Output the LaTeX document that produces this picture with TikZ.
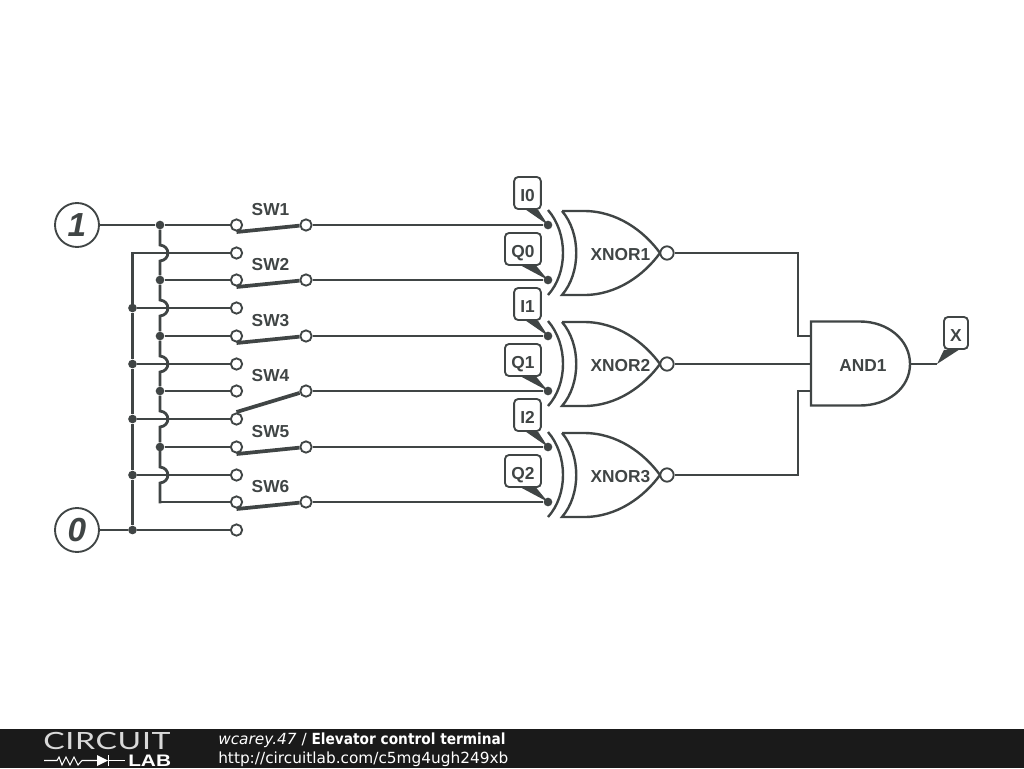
\documentclass[tikz,border=0pt]{standalone}
\usepackage{fontspec}
\setmainfont{Liberation Sans}
\newfontfamily\footfont{DejaVu Sans}
\newfontfamily\logofont[FakeStretch=1.35, LetterSpace=3]{Lato}
\newfontfamily\lablogofont[FakeStretch=1.25]{Liberation Sans}
\newfontfamily\titlefont[FakeStretch=0.895]{DejaVu Sans}
\definecolor{wirecol}{HTML}{404545}
\definecolor{barcol}{HTML}{1A1A1A}
\tikzset{
  wire/.style={draw=wirecol, line width=2.1pt},
  lever/.style={draw=wirecol, line width=2.8pt},
  junc/.style={circle, fill=wirecol, inner sep=0pt, minimum size=6.5pt},
  contact/.style={circle, draw=wirecol, fill=white, line width=1.4pt, inner sep=0pt, minimum size=8.5pt},
  bubble/.style={circle, draw=wirecol, fill=white, line width=1.4pt, inner sep=0pt, minimum size=10pt},
  rail/.style={circle, draw=wirecol, fill=white, line width=1.4pt, inner sep=0pt, minimum size=33pt, font=\bfseries\itshape\fontsize{25}{25}\selectfont, text=wirecol},
  lab/.style={font=\bfseries\fontsize{13}{13}\selectfont, text=wirecol, inner sep=0pt},
  tag/.style={draw=wirecol, fill=white, line width=1.4pt, rounded corners=3pt, inner sep=0pt, minimum height=24pt, text height=12pt, text depth=0pt, font=\bfseries\fontsize{13}{13}\selectfont, text=wirecol},
  wedge/.style={fill=wirecol},
  gateline/.style={draw=wirecol, line width=1.8pt},
  xnorgate/.pic={
    \draw[gateline] (-14,-43) .. controls (6,-20) and (6,20) .. (-14,42);
    \draw[gateline] (0,-42) -- (22,-42) .. controls (55,-42) and (82,-22) .. (98,0) .. controls (82,22) and (55,42) .. (22,42) -- (0,42) .. controls (19,20) and (19,-20) .. (0,-42);
  },
}
\begin{document}
\begin{tikzpicture}[x=0.75pt, y=-0.75pt]
\useasboundingbox (0,0) rectangle (1024,768);
% rails
\node[rail] (one) at (77,225) {1};
\node[rail] (zero) at (77,530) {0};
% switch contacts, left
\node[contact] (sw1a) at (236.5,225) {};
\node[contact] (sw1c) at (236.5,253) {};
\node[contact] (sw2a) at (236.5,280) {};
\node[contact] (sw2c) at (236.5,308) {};
\node[contact] (sw3a) at (236.5,336) {};
\node[contact] (sw3c) at (236.5,364) {};
\node[contact] (sw4a) at (236.5,391) {};
\node[contact] (sw4c) at (236.5,419) {};
\node[contact] (sw5a) at (236.5,447) {};
\node[contact] (sw5c) at (236.5,475) {};
\node[contact] (sw6a) at (236.5,502) {};
\node[contact] (sw6c) at (236.5,530) {};
% switch contacts, right
\node[contact] (sw1b) at (306,225) {};
\node[contact] (sw2b) at (306,280) {};
\node[contact] (sw3b) at (306,336) {};
\node[contact] (sw4b) at (306,391) {};
\node[contact] (sw5b) at (306,447) {};
\node[contact] (sw6b) at (306,502) {};
% levers
\coordinate (lev1) at (236.5,232);
\coordinate (lev2) at (236.5,287);
\coordinate (lev3) at (236.5,343);
\coordinate (lev4) at (236.5,412);
\coordinate (lev5) at (236.5,454);
\coordinate (lev6) at (236.5,509);
\draw[lever] (lev1) -- (sw1b);
\draw[lever] (lev2) -- (sw2b);
\draw[lever] (lev3) -- (sw3b);
\draw[lever] (lev4) -- (sw4b);
\draw[lever] (lev5) -- (sw5b);
\draw[lever] (lev6) -- (sw6b);
\node[lab] (sw1) at (270.5,210) {SW1};
\node[lab] (sw2) at (270.5,265) {SW2};
\node[lab] (sw3) at (270.5,320.5) {SW3};
\node[lab] (sw4) at (270.5,376) {SW4};
\node[lab] (sw5) at (270.5,431.5) {SW5};
\node[lab] (sw6) at (270.5,487) {SW6};
% bus for 1
\node[junc] (a1) at (160,225) {};
\node[junc] (a2) at (160,280) {};
\node[junc] (a3) at (160,336) {};
\node[junc] (a4) at (160,391) {};
\node[junc] (a5) at (160,447) {};
\coordinate (a6) at (160,502);
\draw[wire] (one) -- (a1);
\draw[wire] (a1) -- (sw1a);
\draw[wire] (a2) -- (sw2a);
\draw[wire] (a3) -- (sw3a);
\draw[wire] (a4) -- (sw4a);
\draw[wire] (a5) -- (sw5a);
\draw[wire, line cap=rect] (a6) -- (sw6a);
\draw[wire] (a1) -- (160,245) .. controls (170.5,246) and (170.5,260) .. (160,261) -- (a2);
\draw[wire] (a2) -- (160,300) .. controls (170.5,301) and (170.5,315) .. (160,316) -- (a3);
\draw[wire] (a3) -- (160,356) .. controls (170.5,357) and (170.5,371) .. (160,372) -- (a4);
\draw[wire] (a4) -- (160,411) .. controls (170.5,412) and (170.5,426) .. (160,427) -- (a5);
\draw[wire, line cap=rect] (a5) -- (160,467) .. controls (170.5,468) and (170.5,482) .. (160,483) -- (a6);
% bus for 0
\coordinate (b1) at (132.5,253);
\node[junc] (b2) at (132.5,308) {};
\node[junc] (b3) at (132.5,364) {};
\node[junc] (b4) at (132.5,419) {};
\node[junc] (b5) at (132.5,475) {};
\node[junc] (b6) at (132.5,530) {};
\draw[wire] (zero) -- (b6);
\draw[wire] (b6) -- (sw6c);
\draw[wire, line cap=rect] (b1) -- (sw1c);
\draw[wire] (b2) -- (sw2c);
\draw[wire] (b3) -- (sw3c);
\draw[wire] (b4) -- (sw4c);
\draw[wire] (b5) -- (sw5c);
\draw[wire, line cap=rect] (b1) -- (b2);
\draw[wire] (b2) -- (b3);
\draw[wire] (b3) -- (b4);
\draw[wire] (b4) -- (b5);
\draw[wire] (b5) -- (b6);
% gates
\pic (xnor1) at (562,253) {xnorgate};
\pic (xnor2) at (562,364) {xnorgate};
\pic (xnor3) at (562,475) {xnorgate};
\node[lab] (xnor1l) at (620.5,255) {XNOR1};
\node[lab] (xnor2l) at (620.5,366) {XNOR2};
\node[lab] (xnor3l) at (620.5,477) {XNOR3};
\node[bubble] (xnor1o) at (667,253) {};
\node[bubble] (xnor2o) at (667,364) {};
\node[bubble] (xnor3o) at (667,475) {};
\draw[gateline] (811,321.5) -- (860,321.5) .. controls (888,321.5) and (910,340) .. (910,364) .. controls (910,388) and (888,405.5) .. (860,405.5) -- (811,405.5) -- cycle;
\node[lab] (and1) at (863,366) {AND1};
% gate inputs
\node[junc] (d0) at (548,225) {};
\node[junc] (d1) at (548,280) {};
\node[junc] (d2) at (548,336) {};
\node[junc] (d3) at (548,391) {};
\node[junc] (d4) at (548,447) {};
\node[junc] (d5) at (548,502) {};
\draw[wire] (sw1b) -- (d0);
\draw[wire] (sw2b) -- (d1);
\draw[wire] (sw3b) -- (d2);
\draw[wire] (sw4b) -- (d3);
\draw[wire] (sw5b) -- (d4);
\draw[wire] (sw6b) -- (d5);
% gate outputs
\coordinate (and1ta) at (798,336);
\coordinate (and1a) at (811,336);
\coordinate (and1b) at (811,364);
\coordinate (and1tc) at (798,391);
\coordinate (and1c) at (811,391);
\coordinate (and1o) at (910,364);
\coordinate (xbend) at (937,364);
\draw[wire] (xnor1o) -| (and1ta) -- (and1a);
\draw[wire] (xnor2o) -- (and1b);
\draw[wire] (xnor3o) -| (and1tc) -- (and1c);
\draw[wire] (and1o) -- (xbend);
% tags
\node[tag, minimum width=20pt] (i0) at (527.5,193) {I0};
\node[tag, minimum width=27pt] (q0) at (523,249) {Q0};
\node[tag, minimum width=20pt] (i1) at (527.5,304) {I1};
\node[tag, minimum width=27pt] (q1) at (523,360) {Q1};
\node[tag, minimum width=20pt] (i2) at (527.5,415) {I2};
\node[tag, minimum width=27pt] (q2) at (523,471) {Q2};
\node[tag, minimum width=18pt] (x) at (956,333) {X};
\fill[wedge] ([xshift=-1pt]i0.south) -- ([xshift=8pt]i0.south) -- (d0.center) -- cycle;
\fill[wedge] ([xshift=-1pt]q0.south) -- ([xshift=10pt]q0.south) -- (d1.center) -- cycle;
\fill[wedge] ([xshift=-1pt]i1.south) -- ([xshift=8pt]i1.south) -- (d2.center) -- cycle;
\fill[wedge] ([xshift=-1pt]q1.south) -- ([xshift=10pt]q1.south) -- (d3.center) -- cycle;
\fill[wedge] ([xshift=-1pt]i2.south) -- ([xshift=8pt]i2.south) -- (d4.center) -- cycle;
\fill[wedge] ([xshift=-1pt]q2.south) -- ([xshift=10pt]q2.south) -- (d5.center) -- cycle;
\fill[wedge] ([xshift=-9pt]x.south) -- ([xshift=2pt]x.south) -- (xbend) -- cycle;
% footer
\fill[barcol] (0,729) rectangle (1024,768);
\node[anchor=base west, inner sep=0pt, text=white!85!black, font=\logofont\fontsize{17.8}{18}\selectfont] (logo) at (43,749.5) {CIRCUIT};
\node[anchor=base west, inner sep=0pt, text=white, font=\lablogofont\bfseries\fontsize{12.5}{13}\selectfont] (lablogo) at (128,766) {LAB};
\draw[white, line width=.8pt] (44,760.5) -- (57,760.5) -- (59,757) -- (62,765) -- (66,757) -- (70,765) -- (74,757) -- (78,765) -- (82,760.5) -- (97,760.5);
\fill[white] (97,755) -- (108,760.5) -- (97,766) -- cycle;
\draw[white, line width=1pt] (108.5,755) -- (108.5,766);
\draw[white, line width=.8pt] (108,760.5) -- (125,760.5);
\node[anchor=base west, inner sep=0pt, text=white, font=\footfont\fontsize{11.5}{12}\selectfont] (title) at (218,744.5) {\textit{wcarey.47} / {\titlefont\bfseries Elevator control terminal}};
\node[anchor=base west, inner sep=0pt, text=white, font=\footfont\fontsize{11.5}{12}\selectfont] (url) at (218,763.5) {http://circuitlab.com/c5mg4ugh249xb};
\end{tikzpicture}
\end{document}
